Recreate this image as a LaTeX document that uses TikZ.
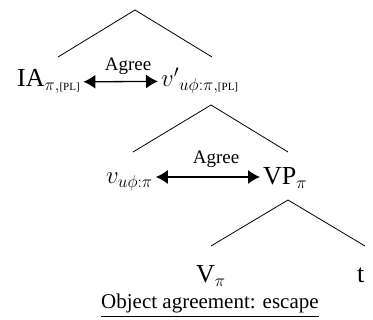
\documentclass[tikz,border=0pt]{standalone}
\usepackage{amsmath}
\usepackage{fontspec}
\setmainfont{Liberation Serif}
\usetikzlibrary{arrows.meta}

\tikzset{
  lbl/.style={font=\fontsize{26}{30}\selectfont, inner sep=0pt, anchor=base west},
  agreelbl/.style={font=\fontsize{19}{22}\selectfont, inner sep=0pt},
  agree/.style={{Latex[length=12pt,width=14pt]}-{Latex[length=12pt,width=14pt]}, line width=1.3pt, shorten <=3pt, shorten >=3pt},
  branch/.style={line width=0.8pt}
}
\newcommand{\plsub}{\text{\fontsize{11}{12}\selectfont[PL]}}

\begin{document}
\begin{tikzpicture}[x=1pt,y=-1pt]
\useasboundingbox (0,0) rectangle (373,320);

% Top branching
\coordinate (top1) at (135,10);
\coordinate (l1) at (58,57);
\coordinate (r1) at (212,57);
\draw[branch] (l1) -- (top1) -- (r1);

% IA and v'
\node[lbl] (IA) at (17,87) {IA$_{\pi,\plsub}$};
\node[lbl] (vbar) at (161,87) {${v'}_{u\phi:\pi,\plsub}$};
\draw[agree] (IA) -- (vbar);
\node[agreelbl] (agr1) at (128,66) {Agree};

% Middle branching
\coordinate (top2) at (211,105);
\coordinate (l2) at (133,152);
\coordinate (r2) at (288,152);
\draw[branch] (l2) -- (top2) -- (r2);

% v and VP
\node[lbl] (v) at (106,184) {$v_{u\phi:\pi}$};
\node[lbl] (VP) at (263,185) {VP$_\pi$};
\draw[agree] (v.east |- 0,177) -- (VP.west |- 0,177);
\node[agreelbl] (agr2) at (216,159) {Agree};

% Bottom branching
\coordinate (top3) at (288,200);
\coordinate (l3) at (211,246);
\coordinate (r3) at (365,246);
\draw[branch] (l3) -- (top3) -- (r3);

% V and trace
\node[lbl] (V) at (196,283) {V$_\pi$};
\node[lbl] (t) at (357,283) {t};

% Caption
\node[agreelbl, font=\fontsize{21}{24}\selectfont, anchor=base west] (cap) at (101,309) {\underline{Object agreement: escape}};
\end{tikzpicture}
\end{document}
